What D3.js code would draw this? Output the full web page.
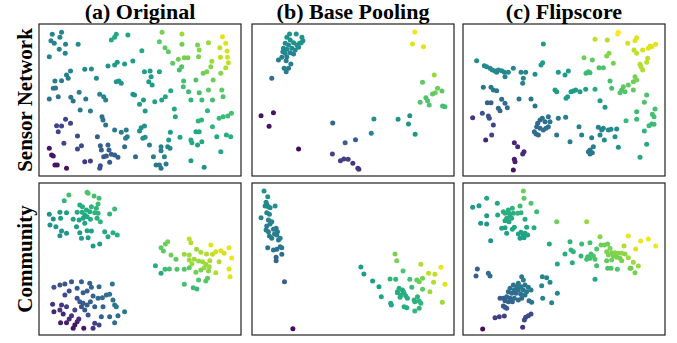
<!DOCTYPE html>
<html>
<head>
<meta charset="utf-8">
<script src="https://cdn.jsdelivr.net/npm/d3@7"></script>
<style>
  html, body { margin: 0; padding: 0; background: #fff; }
  svg { display: block; }
</style>
</head>
<body>
<div id="chart"></div>
<script>
// embedding coordinates, one [x, y, colour value] per node
const columnTitles = ['(a) Original', '(b) Base Pooling', '(c) Flipscore'];
const rowTitles = ['Sensor Network', 'Community'];

// axis extents of each embedding (x min, x max, y min, y max)
const sensorExtents = [[117, 726, 72, 528], [36, 639, 72, 528], [24, 630, 72, 528]];
const communityExtents = [[117, 726, 39, 495], [36, 639, 39, 495], [24, 630, 39, 495]];

const sensorOriginal = [
  [157,103,0.45],[185,97,0.45],[153,122,0.45],[180,112,0.45],[163,130,0.45],[197,133,0.45],[235,133,0.48],[178,148,0.45],[196,160,0.45],[148,170,0.45],
  [350,103,0.6],[345,112,0.6],[335,120,0.6],[385,105,0.58],[488,97,0.8],[548,102,0.85],[480,125,0.75],[548,133,0.78],[497,143,0.75],[507,155,0.75],
  [427,152,0.6],[595,135,0.8],[628,128,0.85],[670,110,0.95],[680,130,0.95],[662,143,0.9],[600,150,0.82],[684,153,0.93],[664,172,0.9],[685,172,0.93],
  [688,188,0.9],[638,184,0.85],[555,173,0.8],[566,173,0.8],[537,178,0.78],[520,190,0.75],[598,170,0.8],[680,203,0.88],[635,200,0.82],[623,215,0.8],
  [612,220,0.78],[540,210,0.7],[547,200,0.72],[665,220,0.82],[590,240,0.72],[553,243,0.7],[552,260,0.7],[568,275,0.68],[600,278,0.7],[642,240,0.78],
  [628,270,0.75],[668,270,0.75],[575,300,0.65],[608,300,0.68],[640,300,0.7],[672,290,0.72],
  [353,187,0.55],[345,195,0.55],[325,198,0.52],[375,192,0.55],[400,183,0.55],[255,208,0.48],[275,207,0.5],[212,213,0.45],[200,225,0.42],[205,235,0.42],
  [165,243,0.42],[185,242,0.42],[290,235,0.48],[350,245,0.52],[358,243,0.52],[365,250,0.52],[435,215,0.55],[452,213,0.55],[480,215,0.57],[455,230,0.55],
  [448,245,0.55],[458,255,0.55],[160,265,0.4],[167,264,0.4],[238,277,0.42],[300,283,0.45],[312,290,0.45],[318,300,0.45],[400,283,0.5],[405,285,0.5],
  [514,272,0.6],[498,290,0.6],[487,300,0.58],[466,305,0.57],[432,300,0.55],[420,313,0.55],[437,333,0.55],[148,297,0.38],[175,290,0.38],[213,292,0.38],
  [220,303,0.38],[258,297,0.4],[241,330,0.4],[272,333,0.42],[525,327,0.6],[528,350,0.6],[625,332,0.65],[607,360,0.65],[597,363,0.65],[640,380,0.65],
  [660,355,0.68],[672,350,0.68],[686,348,0.68],[697,340,0.7],
  [307,350,0.35],[310,360,0.38],[318,375,0.38],[345,390,0.4],[365,397,0.42],[380,390,0.42],[383,410,0.42],[378,415,0.42],[425,383,0.5],[435,378,0.5],
  [420,393,0.5],[437,412,0.5],[430,415,0.5],[513,397,0.55],[508,420,0.55],[542,412,0.58],[590,395,0.6],[600,395,0.6],[575,420,0.6],[578,428,0.6],
  [595,435,0.58],[608,425,0.6],[653,410,0.6],[682,405,0.62],[695,410,0.62],[665,455,0.6],
  [197,358,0.2],[170,377,0.2],[185,378,0.2],[212,370,0.2],[175,395,0.2],[233,408,0.22],[293,410,0.28],[192,430,0.2],[245,437,0.22],[233,447,0.22],
  [148,445,0.05],[155,465,0.05],[160,468,0.05],[165,495,0.05],[172,495,0.05],[200,505,0.05],[302,437,0.3],[325,435,0.32],[375,440,0.35],[450,435,0.42],
  [305,450,0.3],[328,450,0.3],[345,465,0.3],[335,463,0.3],[320,468,0.28],[355,472,0.3],[312,470,0.28],[330,487,0.28],[302,497,0.25],[300,505,0.25],
  [255,485,0.15],[272,483,0.18],[408,470,0.35],[462,470,0.42],[485,452,0.42],[485,440,0.45],[505,440,0.45],[512,445,0.45],[495,470,0.45],[470,495,0.4],
  [480,495,0.4],[485,505,0.4],[500,492,0.42],[575,482,0.55],[615,502,0.5]
];

const sensorBase = [
  [148,102,0.5],[168,102,0.5],[185,112,0.5],[188,122,0.5],[178,130,0.5],[140,112,0.5],[150,120,0.5],[135,130,0.48],[145,135,0.48],[160,128,0.5],
  [130,145,0.47],[140,148,0.47],[155,145,0.47],[165,150,0.48],[175,142,0.48],[150,158,0.45],[160,162,0.45],[135,160,0.45],[140,170,0.43],[125,172,0.42],
  [115,180,0.42],[138,182,0.42],[152,192,0.42],[145,205,0.42],[132,205,0.42],[138,215,0.42],[95,235,0.35],[170,135,0.5],[183,128,0.5],[128,155,0.47],
  [522,96,0.97],[515,132,0.95],[548,140,0.95],
  [580,225,0.85],[545,247,0.75],[590,265,0.78],[603,273,0.75],[583,278,0.78],[575,282,0.75],[555,293,0.72],[538,307,0.72],[560,302,0.72],[565,315,0.72],
  [605,318,0.7],[612,320,0.7],
  [400,357,0.5],[472,358,0.5],[507,347,0.5],[503,372,0.52],[523,403,0.52],[392,400,0.45],
  [277,369,0.33],[345,419,0.3],[314,428,0.3],
  [63,347,0.05],[100,338,0.05],[87,379,0.05],[175,447,0.02],[276,462,0.2],[300,482,0.18],[310,477,0.18],[323,478,0.18],[337,490,0.15],[352,505,0.15],
  [355,508,0.15]
];

const sensorFlip = [
  [490,97,1.0],[488,102,1.0],[420,118,0.9],[457,120,0.88],[545,113,0.95],[540,122,0.95],[518,130,0.93],[602,133,0.95],[590,140,0.95],[580,145,0.95],
  [585,138,0.95],[563,150,0.93],[537,150,0.9],[545,160,0.9],[578,175,0.9],[575,187,0.9],[555,193,0.88],[558,200,0.88],[563,210,0.88],[462,160,0.82],
  [455,168,0.82],[475,190,0.8],[387,173,0.78],[412,180,0.75],[432,203,0.72],[445,203,0.72],[400,215,0.68],[393,220,0.68],[405,218,0.68],[540,230,0.8],
  [545,240,0.8],[535,245,0.78],[520,255,0.76],[505,260,0.75],[500,270,0.73],[495,278,0.73],[510,275,0.73],[535,270,0.75],[465,243,0.7],[470,265,0.7],
  [420,268,0.62],[575,285,0.72],[568,307,0.72],[600,327,0.7],[592,343,0.7],[597,350,0.7],[545,335,0.68],[545,358,0.68],[513,362,0.67],[590,372,0.68],
  [597,373,0.68],[582,377,0.68],[568,393,0.65],[575,433,0.6],[555,472,0.6],
  [265,132,0.55],[263,188,0.55],[258,195,0.55],[65,182,0.48],[88,197,0.48],[95,200,0.48],[105,205,0.47],[112,210,0.47],[120,213,0.47],[125,217,0.47],
  [130,210,0.47],[140,212,0.47],[148,217,0.47],[160,217,0.47],[150,230,0.45],[175,205,0.45],[198,217,0.45],[212,217,0.45],[205,235,0.45],[203,250,0.45],
  [240,223,0.5],[310,217,0.55],[340,213,0.55],[330,225,0.55],[300,270,0.55],[305,275,0.55],[348,275,0.55],[355,273,0.55],[362,270,0.55],[375,275,0.55],
  [338,290,0.55],[333,295,0.55],[392,268,0.57],[435,302,0.55],[450,322,0.55],
  [85,262,0.38],[108,262,0.4],[115,270,0.4],[125,272,0.4],[192,297,0.38],[228,297,0.38],[240,318,0.38],[140,298,0.35],[150,310,0.35],[157,323,0.35],
  [97,308,0.3],[108,308,0.3],[130,325,0.33],[135,332,0.33],[82,340,0.25],[100,348,0.25],[103,355,0.25],[53,353,0.15],[115,375,0.2],[110,405,0.2],
  [92,420,0.1],[178,428,0.1],[188,440,0.12],[207,455,0.12],[203,462,0.12],[178,478,0.08],[180,485,0.08],[175,510,0.05],
  [248,370,0.35],[255,360,0.35],[262,355,0.37],[270,365,0.37],[280,350,0.38],[285,365,0.38],[280,380,0.38],[273,385,0.37],[265,390,0.36],[255,385,0.36],
  [245,380,0.35],[238,395,0.35],[243,402,0.35],[250,405,0.35],[310,355,0.4],[332,352,0.42],[305,405,0.4],[345,425,0.42],[372,380,0.45],[380,405,0.45],
  [430,382,0.45],[440,390,0.45],[445,385,0.46],[410,413,0.42],[405,450,0.4],[400,455,0.4],[412,458,0.4],[405,462,0.4],[415,440,0.42],[435,405,0.45],
  [460,390,0.48],[485,387,0.48],[448,420,0.48],[468,388,0.48],[490,442,0.5],[480,410,0.5]
];

const communityOriginal = [
  [262,67,0.72],[265,70,0.72],[207,75,0.7],[283,78,0.7],[298,85,0.7],[193,92,0.65],[295,102,0.68],[240,105,0.62],[248,110,0.62],[275,110,0.65],
  [290,115,0.65],[260,120,0.62],[232,127,0.6],[247,127,0.62],[270,125,0.62],[285,128,0.65],[295,130,0.65],[255,135,0.6],[262,140,0.6],[250,145,0.6],
  [238,150,0.58],[220,148,0.58],[272,148,0.62],[292,145,0.62],[302,155,0.65],[345,117,0.68],[330,132,0.65],[180,127,0.55],[200,128,0.55],[148,133,0.5],
  [160,147,0.5],[182,145,0.55],[150,165,0.5],[168,170,0.52],[185,183,0.52],[180,197,0.5],[200,190,0.52],[240,188,0.55],[245,205,0.55],[265,203,0.55],
  [262,182,0.57],[275,183,0.57],[315,185,0.6],[340,188,0.62],[353,195,0.62],[325,200,0.6],[300,222,0.55],[280,228,0.55],[230,170,0.55],[255,160,0.58],
  [570,207,0.9],[575,218,0.88],[505,215,0.8],[498,222,0.78],[485,233,0.75],[492,243,0.75],[515,255,0.78],[530,268,0.75],[555,253,0.85],[570,255,0.85],
  [592,238,0.85],[605,247,0.87],[635,225,0.95],[650,245,0.93],[665,242,0.95],[690,233,0.97],[698,264,0.97],[675,250,0.93],[640,253,0.9],[622,252,0.88],
  [570,270,0.85],[585,268,0.85],[598,273,0.85],[610,275,0.85],[620,283,0.85],[630,290,0.85],[615,293,0.85],[632,272,0.87],[660,275,0.88],[690,297,0.95],
  [693,320,0.95],[650,308,0.88],[628,303,0.83],[605,300,0.8],[590,307,0.78],[570,293,0.75],[555,298,0.73],[533,298,0.72],[510,297,0.7],[497,298,0.68],
  [468,287,0.62],[485,310,0.6],[555,343,0.7],[582,353,0.68],[593,357,0.68],[598,330,0.73],[620,333,0.73],[625,325,0.75],[578,282,0.85],
  [162,352,0.25],[180,345,0.25],[195,342,0.25],[215,335,0.25],[245,335,0.3],[270,340,0.32],[275,352,0.32],[298,350,0.35],[338,342,0.38],[232,355,0.28],
  [208,363,0.22],[195,375,0.22],[250,368,0.3],[262,363,0.3],[280,378,0.32],[295,385,0.35],[308,383,0.35],[320,375,0.35],[330,373,0.38],[340,390,0.38],
  [345,405,0.38],[350,410,0.4],[375,425,0.4],[232,385,0.25],[240,395,0.28],[250,400,0.28],[262,405,0.3],[272,395,0.3],[285,410,0.3],[310,410,0.32],
  [255,420,0.28],[245,410,0.25],[158,403,0.15],[185,405,0.15],[200,410,0.18],[180,420,0.15],[162,425,0.1],[190,432,0.1],[215,437,0.15],[237,447,0.12],
  [232,455,0.1],[208,447,0.12],[182,458,0.08],[200,458,0.08],[225,465,0.05],[220,475,0.05],[252,475,0.05],[285,460,0.18],[298,465,0.2],[280,475,0.15],
  [305,440,0.3],[330,440,0.32],[355,437,0.35],[345,458,0.35],[265,435,0.25],[225,420,0.2]
];

const communityBase = [
  [72,63,0.5],[83,80,0.5],[78,97,0.48],[80,103,0.48],[75,108,0.47],[85,110,0.47],[90,113,0.47],[105,108,0.5],[80,128,0.45],[88,133,0.45],
  [63,143,0.45],[85,150,0.45],[95,155,0.43],[90,162,0.43],[80,168,0.42],[78,180,0.42],[85,185,0.42],[100,178,0.42],[108,175,0.42],[112,185,0.42],
  [103,192,0.42],[110,195,0.42],[88,198,0.42],[95,205,0.42],[115,210,0.42],[120,205,0.42],[120,230,0.4],[125,233,0.4],[110,238,0.38],[100,240,0.38],
  [83,233,0.38],[125,253,0.35],[108,262,0.33],[108,272,0.33],[133,335,0.3],[158,476,0.02],
  [463,252,0.8],[468,272,0.8],[487,303,0.72],[540,283,0.88],[600,292,0.97],[563,310,0.9],[582,313,0.9],[545,325,0.8],[528,330,0.75],[507,328,0.7],
  [535,335,0.78],[612,343,0.95],[578,337,0.88],[567,365,0.85],[545,358,0.75],[513,352,0.68],[465,328,0.65],[448,327,0.65],[361,291,0.55],[370,312,0.55],
  [396,333,0.55],[415,350,0.55],[422,380,0.58],[475,355,0.62],[485,360,0.62],[470,365,0.62],[490,370,0.62],[480,375,0.62],[495,378,0.63],[478,382,0.63],
  [500,385,0.63],[520,390,0.65],[530,380,0.65],[535,393,0.65],[540,400,0.65],[522,395,0.64],[450,400,0.6],[452,405,0.6],[490,410,0.62],[498,413,0.62],
  [535,415,0.65],[522,423,0.65],[604,397,0.85],[470,368,0.62],[488,365,0.62]
];

const communityFlip = [
  [205,63,0.78],[207,85,0.75],[95,85,0.6],[127,100,0.6],[72,107,0.55],[53,112,0.55],[228,100,0.72],[195,108,0.68],[172,115,0.65],[160,120,0.63],
  [145,125,0.63],[150,130,0.63],[162,130,0.63],[175,130,0.63],[188,130,0.65],[198,128,0.65],[128,135,0.6],[165,140,0.62],[155,145,0.62],[170,145,0.62],
  [150,152,0.6],[162,155,0.6],[245,125,0.68],[95,137,0.55],[210,148,0.62],[77,160,0.52],[95,162,0.52],[140,175,0.58],[150,173,0.58],[172,178,0.6],
  [178,172,0.6],[215,172,0.6],[237,173,0.62],[155,190,0.57],[190,192,0.58],[198,187,0.58],[205,195,0.58],[210,190,0.58],[218,195,0.58],[195,205,0.57],
  [207,203,0.57],[107,212,0.5],
  [305,155,0.78],[395,155,0.85],[520,198,0.97],[557,213,0.97],[580,207,0.98],[602,228,0.98],[435,200,0.82],[542,237,0.95],[507,228,0.88],[345,215,0.65],
  [380,222,0.68],[405,218,0.7],[283,222,0.6],[348,240,0.65],[355,245,0.65],[330,252,0.62],[378,258,0.65],[425,237,0.72],[438,225,0.78],[448,225,0.78],
  [458,222,0.78],[465,235,0.8],[455,245,0.8],[470,248,0.8],[480,248,0.82],[490,250,0.82],[500,250,0.83],[510,252,0.83],[460,255,0.8],[475,258,0.8],
  [485,262,0.8],[495,265,0.8],[470,270,0.78],[500,272,0.8],[408,252,0.7],[398,260,0.7],[395,268,0.7],[405,265,0.7],[415,258,0.72],[420,268,0.72],
  [352,278,0.62],[307,282,0.6],[425,287,0.7],[455,272,0.75],[458,295,0.72],[468,295,0.72],[487,298,0.72],[525,295,0.78],[520,263,0.85],[535,277,0.85],
  [550,288,0.85],[528,295,0.78],[540,308,0.8],[420,328,0.6],
  [67,297,0.3],[63,318,0.3],[100,310,0.35],[105,318,0.35],[200,320,0.4],[205,330,0.42],[262,320,0.45],[275,323,0.45],[285,337,0.45],[260,347,0.45],
  [190,340,0.4],[175,345,0.38],[185,350,0.4],[198,350,0.4],[210,345,0.4],[220,352,0.4],[228,360,0.42],[165,355,0.38],[178,360,0.38],[190,360,0.38],
  [205,360,0.4],[215,365,0.4],[160,365,0.35],[170,370,0.35],[183,370,0.35],[197,372,0.38],[210,375,0.38],[155,380,0.33],[165,385,0.33],[178,385,0.35],
  [190,390,0.35],[200,385,0.35],[135,385,0.3],[145,385,0.3],[150,392,0.3],[160,395,0.32],[172,395,0.32],[222,392,0.38],[230,397,0.38],[263,385,0.45],
  [307,370,0.45],[290,398,0.45],[145,408,0.28],[150,412,0.28],[155,415,0.28],[228,432,0.22],[220,437,0.22],[212,442,0.22],[208,450,0.22],[148,438,0.18],
  [133,440,0.18],[120,443,0.18],[203,472,0.15],[83,477,0.03]
];

const panels = [
  [sensorOriginal, sensorBase, sensorFlip],
  [communityOriginal, communityBase, communityFlip]
];
const extents = [sensorExtents, communityExtents];

const width = 677;
const height = 343;
const colLeft = [39, 252, 463];
const panelW = 202;
const rowTop = [24, 183];
const panelH = 152;

const svg = d3
  .select('#chart')
  .append('svg')
  .attr('width', width)
  .attr('height', height);

const color = d3.scaleSequential(d3.interpolateViridis).domain([0, 1]);

panels.forEach((row, r) => {
  row.forEach((data, c) => {
    const ext = extents[r][c];
    const x = d3.scaleLinear().domain([ext[0], ext[1]]).range([colLeft[c], colLeft[c] + panelW]);
    const y = d3.scaleLinear().domain([ext[2], ext[3]]).range([rowTop[r], rowTop[r] + panelH]);

    const g = svg.append('g');

    g.selectAll('circle')
      .data(data)
      .enter()
      .append('circle')
      .attr('cx', (d) => x(d[0]))
      .attr('cy', (d) => y(d[1]))
      .attr('r', 2.5)
      .attr('fill', (d) => color(d[2]));

    g.append('rect')
      .attr('x', colLeft[c])
      .attr('y', rowTop[r])
      .attr('width', panelW)
      .attr('height', panelH)
      .attr('fill', 'none')
      .attr('stroke', '#222')
      .attr('stroke-width', 1.2);
  });
});

// column titles
svg
  .selectAll('.col-title')
  .data(columnTitles)
  .enter()
  .append('text')
  .attr('class', 'col-title')
  .attr('x', (d, i) => colLeft[i] + panelW / 2)
  .attr('y', 19)
  .attr('text-anchor', 'middle')
  .style('font-family', '"Liberation Serif", "Times New Roman", serif')
  .style('font-weight', 'bold')
  .style('font-size', '22px')
  .text((d) => d);

// row titles
svg
  .selectAll('.row-title')
  .data(rowTitles)
  .enter()
  .append('text')
  .attr('class', 'row-title')
  .attr('transform', (d, i) => `translate(32,${rowTop[i] + panelH / 2}) rotate(-90)`)
  .attr('text-anchor', 'middle')
  .style('font-family', '"Liberation Serif", "Times New Roman", serif')
  .style('font-weight', 'bold')
  .style('font-size', '21px')
  .text((d) => d);
</script>
</body>
</html>
